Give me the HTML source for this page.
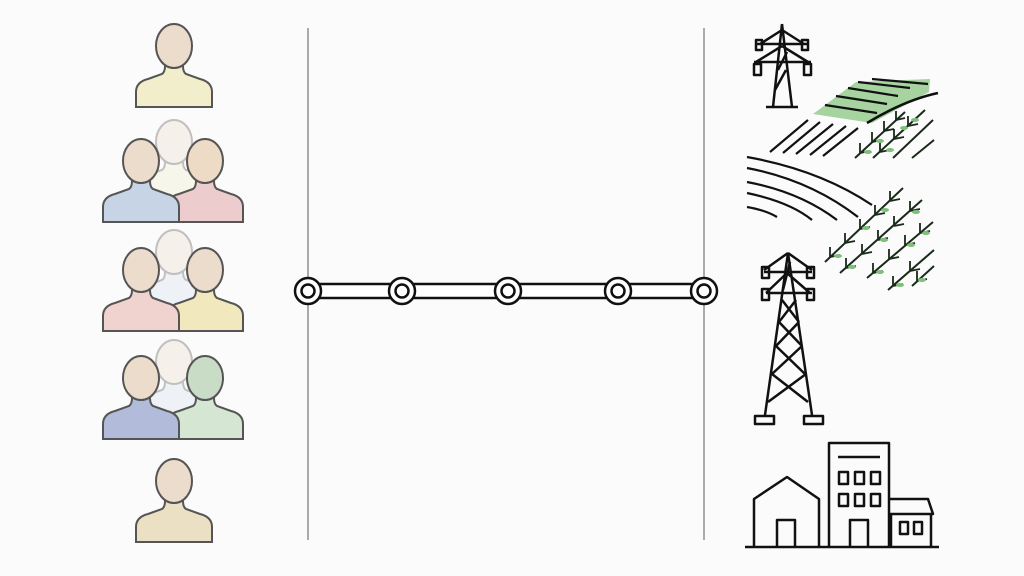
<!DOCTYPE html>
<html><head><meta charset="utf-8"><style>
html,body{margin:0;padding:0;background:#fbfbfb;}
svg{display:block}
</style></head><body>
<svg width="1024" height="576" viewBox="0 0 1024 576" xmlns="http://www.w3.org/2000/svg">
<rect width="1024" height="576" fill="#fbfbfb"/>
<g stroke="#555" stroke-width="2">
<g transform="translate(174,24)"><path d="M-38 83 V68 Q-38 58 -26 55 L-12 50 Q-9 48 -9 42 L9 42 Q9 48 12 50 L26 55 Q38 58 38 68 V83 Z" fill="#f2eecb"/><ellipse cx="0" cy="22" rx="18" ry="22" fill="#ecdccc"/></g>
<g transform="translate(174,120)" opacity="0.35"><path d="M-38 83 V68 Q-38 58 -26 55 L-12 50 Q-9 48 -9 42 L9 42 Q9 48 12 50 L26 55 Q38 58 38 68 V83 Z" fill="#f2eecb"/><ellipse cx="0" cy="22" rx="18" ry="22" fill="#ecdccc"/></g>
<g transform="translate(205,139)"><path d="M-38 83 V68 Q-38 58 -26 55 L-12 50 Q-9 48 -9 42 L9 42 Q9 48 12 50 L26 55 Q38 58 38 68 V83 Z" fill="#eccccc"/><ellipse cx="0" cy="22" rx="18" ry="22" fill="#eedbc6"/></g>
<g transform="translate(141,139)"><path d="M-38 83 V68 Q-38 58 -26 55 L-12 50 Q-9 48 -9 42 L9 42 Q9 48 12 50 L26 55 Q38 58 38 68 V83 Z" fill="#c6d4e6"/><ellipse cx="0" cy="22" rx="18" ry="22" fill="#ecdccc"/></g>
<g transform="translate(174,230)" opacity="0.35"><path d="M-38 83 V68 Q-38 58 -26 55 L-12 50 Q-9 48 -9 42 L9 42 Q9 48 12 50 L26 55 Q38 58 38 68 V83 Z" fill="#d8e2f2"/><ellipse cx="0" cy="22" rx="18" ry="22" fill="#ecdccc"/></g>
<g transform="translate(205,248)"><path d="M-38 83 V68 Q-38 58 -26 55 L-12 50 Q-9 48 -9 42 L9 42 Q9 48 12 50 L26 55 Q38 58 38 68 V83 Z" fill="#f1e8bd"/><ellipse cx="0" cy="22" rx="18" ry="22" fill="#ecdccc"/></g>
<g transform="translate(141,248)"><path d="M-38 83 V68 Q-38 58 -26 55 L-12 50 Q-9 48 -9 42 L9 42 Q9 48 12 50 L26 55 Q38 58 38 68 V83 Z" fill="#f0d3ce"/><ellipse cx="0" cy="22" rx="18" ry="22" fill="#ecdccc"/></g>
<g transform="translate(174,340)" opacity="0.35"><path d="M-38 83 V68 Q-38 58 -26 55 L-12 50 Q-9 48 -9 42 L9 42 Q9 48 12 50 L26 55 Q38 58 38 68 V83 Z" fill="#d8e2f2"/><ellipse cx="0" cy="22" rx="18" ry="22" fill="#ecdccc"/></g>
<g transform="translate(205,356)"><path d="M-38 83 V68 Q-38 58 -26 55 L-12 50 Q-9 48 -9 42 L9 42 Q9 48 12 50 L26 55 Q38 58 38 68 V83 Z" fill="#d5e7d2"/><ellipse cx="0" cy="22" rx="18" ry="22" fill="#c9dcc6"/></g>
<g transform="translate(141,356)"><path d="M-38 83 V68 Q-38 58 -26 55 L-12 50 Q-9 48 -9 42 L9 42 Q9 48 12 50 L26 55 Q38 58 38 68 V83 Z" fill="#b3bbdb"/><ellipse cx="0" cy="22" rx="18" ry="22" fill="#ecdccc"/></g>
<g transform="translate(174,459)"><path d="M-38 83 V68 Q-38 58 -26 55 L-12 50 Q-9 48 -9 42 L9 42 Q9 48 12 50 L26 55 Q38 58 38 68 V83 Z" fill="#ece0c4"/><ellipse cx="0" cy="22" rx="18" ry="22" fill="#ecdccc"/></g>
</g>
<line x1="308" y1="28" x2="308" y2="540" stroke="#aaa" stroke-width="2"/>
<line x1="704" y1="28" x2="704" y2="540" stroke="#aaa" stroke-width="2"/>
<rect x="308" y="284" width="396" height="14" fill="#fff" stroke="#111" stroke-width="2.5"/>
<g fill="#fff" stroke="#111" stroke-width="2.5">
<circle cx="308" cy="291" r="13"/><circle cx="308" cy="291" r="6.5"/>
<circle cx="402" cy="291" r="13"/><circle cx="402" cy="291" r="6.5"/>
<circle cx="508" cy="291" r="13"/><circle cx="508" cy="291" r="6.5"/>
<circle cx="618" cy="291" r="13"/><circle cx="618" cy="291" r="6.5"/>
<circle cx="704" cy="291" r="13"/><circle cx="704" cy="291" r="6.5"/>
</g>
<g fill="none" stroke="#111" stroke-width="2.5" stroke-linejoin="round">
<path d="M782 24 L773 107 M782 24 L792 107 M766 107 H798"/>
<path d="M756 44 H808 M782 30 L760 44 M782 30 L804 44 M754 62 H811 M782 46 L756 62 M782 46 L808 62 M778 70 L787 52 M775 90 L786 70"/>
<rect x="756" y="40" width="6" height="10"/><rect x="802" y="40" width="6" height="10"/>
<rect x="754" y="64" width="7" height="11"/><rect x="804" y="64" width="7" height="11"/>
<path d="M813 114 L856 82 L930 79 L929 92 L872 123 Z" fill="#a6d3a0" stroke="none"/>
<path d="M825 105 L877 113 M836 96 L887 104 M848 88 L898 96 M858 82 L910 88 M872 79 L928 84" stroke-width="2.2"/>
<path d="M867 123 Q905 100 938 93"/>
<path d="M770 152 L808 120 M783 153 L820 122 M796 154 L833 124 M810 155 L846 126 M823 156 L858 128" stroke-width="2.2"/>
<path d="M747 157 Q820 170 872 205 M747 168 Q810 180 858 217 M747 182 Q800 192 837 220 M747 193 Q790 202 812 220 M747 207 Q765 210 777 217" stroke-width="2.2"/>
<g stroke-width="2" stroke="#1a2a1a">
<path d="M855 158 L905 112 M873 158 L925 110 M893 158 L933 120 M912 158 L934 140"/>
<path d="M825 262 L903 188 M840 273 L922 200 M867 278 L933 222 M888 290 L934 250 M912 286 L934 266"/>
</g>
<g stroke-width="1.8" stroke="#1a2a1a">
<path d="M860 153 l0 -10 M860 153 l10 -2 M872 142 l0 -10 M872 142 l10 -2 M884 131 l0 -10 M884 131 l10 -2 M896 120 l0 -9 M896 120 l9 -2"/>
<path d="M880 152 l0 -10 M880 152 l10 -2 M894 139 l0 -10 M894 139 l10 -2 M908 126 l0 -10 M908 126 l10 -2"/>
<path d="M830 257 l0 -10 M830 257 l10 -2 M845 243 l0 -10 M845 243 l10 -2 M860 229 l0 -10 M860 229 l10 -2 M875 215 l0 -10 M875 215 l10 -2 M890 201 l0 -10 M890 201 l10 -2"/>
<path d="M846 268 l0 -10 M846 268 l10 -2 M862 254 l0 -10 M862 254 l10 -2 M878 240 l0 -10 M878 240 l10 -2 M894 226 l0 -10 M894 226 l10 -2 M910 211 l0 -10 M910 211 l10 -2"/>
<path d="M873 273 l0 -10 M873 273 l10 -2 M889 259 l0 -10 M889 259 l10 -2 M905 245 l0 -10 M905 245 l10 -2 M920 233 l0 -10 M920 233 l10 -2"/>
<path d="M893 286 l0 -10 M893 286 l10 -2 M910 271 l0 -10 M910 271 l10 -2 M917 281 l0 -10 M917 281 l10 -2"/>
</g>
<g fill="#7cc07a" stroke="none">
<ellipse cx="868" cy="152" rx="4" ry="2"/><ellipse cx="880" cy="141" rx="4" ry="2"/><ellipse cx="904" cy="128" rx="4" ry="2"/><ellipse cx="890" cy="150" rx="4" ry="2"/><ellipse cx="915" cy="120" rx="4" ry="2"/>
<ellipse cx="838" cy="256" rx="4" ry="2"/><ellipse cx="866" cy="228" rx="4" ry="2"/><ellipse cx="885" cy="210" rx="4" ry="2"/><ellipse cx="852" cy="267" rx="4" ry="2"/><ellipse cx="884" cy="240" rx="4" ry="2"/><ellipse cx="916" cy="212" rx="4" ry="2"/><ellipse cx="880" cy="272" rx="4" ry="2"/><ellipse cx="911" cy="245" rx="4" ry="2"/><ellipse cx="926" cy="233" rx="4" ry="2"/><ellipse cx="900" cy="285" rx="4" ry="2"/><ellipse cx="922" cy="280" rx="4" ry="2"/>
</g>
<path d="M788 253 L765 415 M788 253 L812 415"/>
<path d="M788 253 L764 270 M788 253 L812 270 M764 272 H812 M766 293 H812 M787 273 L766 293 M787 273 L810 293 M783 290 L790 262"/>
<rect x="762" y="267" width="7" height="11"/><rect x="807" y="267" width="7" height="11"/>
<rect x="762" y="289" width="7" height="11"/><rect x="807" y="289" width="7" height="11"/>
<path d="M782 300 L799 322 M796 300 L779 322 M779 322 L802 346 M799 322 L776 346 M776 346 L805 374 M802 346 L772 374 M772 374 L808 402 M806 374 L768 402"/>
<rect x="755" y="416" width="19" height="8"/><rect x="804" y="416" width="19" height="8"/>
<path d="M745 547 H939"/>
<path d="M754 547 V499 L787 477 L819 499 V547"/>
<path d="M777 547 V520 H795 V547"/>
<path d="M829 547 V443 H889 V547"/>
<path d="M838 457 H880"/>
<rect x="839" y="472" width="9" height="12"/><rect x="855" y="472" width="9" height="12"/><rect x="871" y="472" width="9" height="12"/>
<rect x="839" y="494" width="9" height="12"/><rect x="855" y="494" width="9" height="12"/><rect x="871" y="494" width="9" height="12"/>
<path d="M850 547 V520 H868 V547"/>
<path d="M889 499 H928 L933 514 H889 M891 514 V547 M931 514 V547"/>
<rect x="900" y="522" width="8" height="12"/><rect x="914" y="522" width="8" height="12"/>
</g>
</svg>
</body></html>
